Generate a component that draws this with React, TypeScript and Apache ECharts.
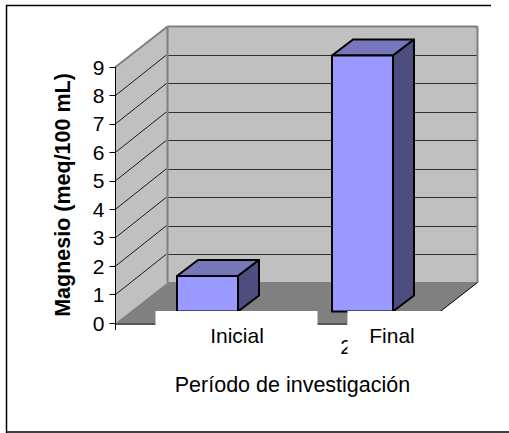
import React, { useEffect, useRef } from "react";
import * as echarts from "echarts";

const categories = ["Inicial", "Final"];
const values = [1.25, 9.0];
const yTicks = [0, 9];
const yName = "Magnesio (meq/100 mL)";
const xName = "Período de investigación";
const hiddenTick = "2";

const FONT = "'Liberation Sans', Arial, sans-serif";
const DX = 52, DY = -40.5;
const WALL = "#c0c0c0", FLOOR = "#808080";
const poly = (points: number[][], style: any) => ({ type: "polygon", shape: { points }, style });
const seg = (x1: number, y1: number, x2: number, y2: number, stroke: string, lineWidth: number) => ({
  type: "line", shape: { x1, y1, x2, y2 }, style: { stroke, lineWidth, fill: "none" },
});

function backdrop(_p: any, api: any) {
  const [c0, y0] = api.coord([0, 0]);
  const [, yTop] = api.coord([0, 9]);
  const x0 = c0 - 77.5;
  const x1 = x0 + 310;
  const children: any[] = [];
  children.push(poly([[x0 + DX, yTop + DY], [x1 + DX, yTop + DY], [x1 + DX, y0 + DY], [x0 + DX, y0 + DY]], { fill: WALL }));
  children.push(poly([[x0, yTop], [x0 + DX, yTop + DY], [x0 + DX, y0 + DY], [x0, y0]], { fill: WALL }));
  children.push(poly([[x0, y0], [x0 + DX, y0 + DY], [x1 + DX, y0 + DY], [x1, y0]], { fill: FLOOR }));
  for (let v = 1; v < 9; v++) {
    const y = api.coord([0, v])[1];
    children.push(seg(x0, y, x0 + DX - 1, y + DY, "#1a1a1a", 1));
    children.push(seg(x0 + DX, Math.round(y + DY) + 0.5, x1 + DX, Math.round(y + DY) + 0.5, "#303030", 1));
  }
  children.push(seg(x0, yTop, x0 + DX, yTop + DY, FLOOR, 2));
  children.push(seg(x0 + DX, yTop + DY, x1 + DX, yTop + DY, FLOOR, 2));
  children.push(seg(x0 + DX, yTop + DY, x0 + DX, y0 + DY, FLOOR, 2));
  children.push(seg(x1 + DX, yTop + DY, x1 + DX, y0 + DY, FLOOR, 2));
  children.push(seg(x0 + DX, y0 + DY, x1 + DX, y0 + DY, FLOOR, 1));
  children.push(seg(x1 + DX, y0 + DY, x1, y0, "#000000", 1));
  return { type: "group", children };
}

function bar3d(_p: any, api: any) {
  const cat = api.value(0), val = api.value(1);
  const [cx, y0] = api.coord([cat, 0]);
  const [, yv] = api.coord([cat, val]);
  const l = cx - 16, r = cx + 45, off = -11.5;
  const b = y0 + off, t = yv + off;
  const dx = 21, dy = -16;
  const st = { stroke: "#000", lineWidth: 2, lineJoin: "round" };
  return {
    type: "group",
    children: [
      poly([[l, t], [l + dx, t + dy], [r + dx, t + dy], [r, t]], { ...st, fill: "#7777bb" }),
      poly([[r, t], [r + dx, t + dy], [r + dx, b + dy], [r, b]], { ...st, fill: "#4d4d80" }),
      poly([[l, t], [r, t], [r, b], [l, b]], { ...st, fill: "#9999ff" }),
    ],
  };
}

function overlay(_p: any, api: any) {
  const [c0, y0] = api.coord([0, 0]);
  const x0 = c0 - 77.5;
  const x2 = api.coord([1, 0])[0];
  return {
    type: "group",
    children: [
      seg(x0, y0 + 1, x0 + 232, y0 + 1, "#202020", 1.5),
      seg(x0, y0, x0, y0 + 7, "#000", 1),
      { type: "text", style: { x: x2 - 2, y: y0 + 13, text: hiddenTick, fill: "#000", font: `21px ${FONT}`, align: "center", verticalAlign: "top" } },
      { type: "rect", shape: { x: x0 + 40, y: y0 - 12, width: 162, height: 40 }, style: { fill: "#fff" } },
      { type: "rect", shape: { x: x0 + 232, y: y0 - 12, width: 130, height: 60 }, style: { fill: "#fff" } },
    ],
  };
}

export default function App() {
  const ref = useRef<HTMLDivElement>(null);
  useEffect(() => {
    const chart = echarts.init(ref.current!, null, { renderer: "svg" });
    chart.setOption({
      animation: false,
      backgroundColor: "#fff",
      textStyle: { fontFamily: FONT },
      grid: { left: 115.5, top: 67, width: 155 * 2, height: 256, containLabel: false },
      xAxis: {
        type: "category",
        data: categories,
        z: 20,
        axisLine: { show: false },
        axisTick: { show: false },
        axisLabel: { color: "#000", fontSize: 21, fontFamily: FONT, margin: 2, padding: [0, 0, 0, 88] },
        name: xName,
        nameLocation: "middle",
        nameGap: 51,
        nameTextStyle: { color: "#000", fontSize: 21.5, fontFamily: FONT, padding: [0, 0, 0, 44] },
      },
      yAxis: {
        type: "value",
        min: 0,
        max: yTicks[1],
        interval: 1,
        z: 20,
        axisLine: { show: true, lineStyle: { color: "#000", width: 1 } },
        axisTick: { show: true, length: 6, lineStyle: { color: "#000" } },
        axisLabel: { color: "#000", fontSize: 21, fontFamily: FONT, margin: 11 },
        splitLine: { show: false },
        name: yName,
        nameLocation: "middle",
        nameGap: 42,
        nameTextStyle: { color: "#000", fontSize: 21.5, fontWeight: "bold", fontFamily: FONT },
      },
      graphic: [
        { type: "polyline", shape: { points: [[6.5, 433], [6.5, 5.5], [491, 5.5]] }, style: { stroke: "#000", lineWidth: 1.5, fill: "none" } },
        { type: "line", shape: { x1: 6, y1: 432, x2: 509, y2: 432 }, style: { stroke: "#000", lineWidth: 1.5 } },
      ],
      series: [
        { type: "custom", z: 1, renderItem: backdrop, data: [[0, 0]], silent: true, clip: false },
        { type: "custom", z: 2, renderItem: bar3d, data: values.map((v, i) => [i, v]), silent: true, clip: false },
        { type: "custom", z: 3, renderItem: overlay, data: [[0, 0]], silent: true, clip: false },
      ],
    });
    return () => chart.dispose();
  }, []);
  return <div ref={ref} style={{ position: "fixed", left: 0, top: 0, width: 509, height: 433 }} />;
}
